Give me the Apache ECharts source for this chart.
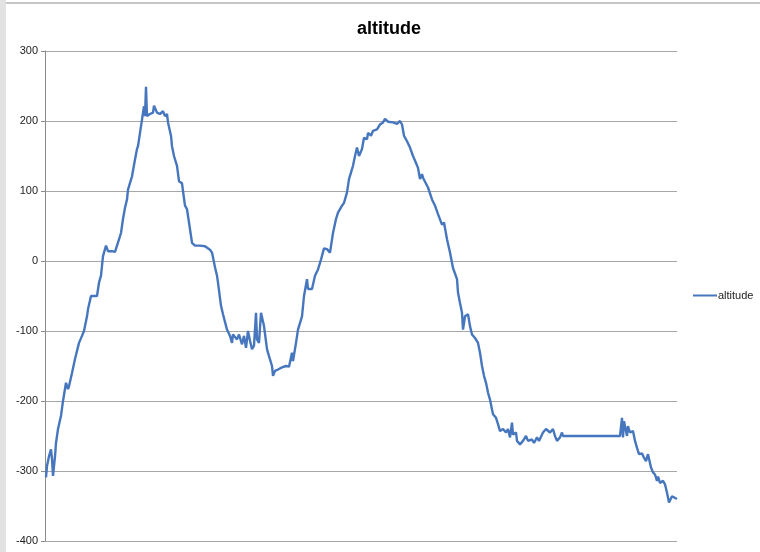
<!DOCTYPE html>
<html>
<head>
<meta charset="utf-8">
<title>altitude</title>
<script src="https://cdn.jsdelivr.net/npm/echarts@6/dist/echarts.min.js"></script>
<style>
    html, body { margin: 0; padding: 0; background: #fff; }
    #chart { width: 760px; height: 552px; }
    .edgeTop { position: absolute; left: 0; top: 2px; width: 760px; height: 2px; background: #c6c6c6; }
    .edgeLeft { position: absolute; left: 0; top: 0; width: 6px; height: 552px; background: #e2e2e2; }
</style>
</head>
<body>
<div id="chart"></div>
<div class="edgeTop"></div>
<div class="edgeLeft"></div>
<script>
// sample index (x) and altitude
var sample = [
    1, 2, 4, 6, 7, 8, 10, 11, 13, 16, 18, 21, 23, 24, 27, 30, 32, 34, 37, 39,
    42, 43, 46, 48, 52, 54, 56, 58, 61, 63, 67, 70, 72, 74, 76, 78, 80, 82, 83, 87,
    90, 92, 93, 95, 97, 99, 100, 101, 102, 105, 108, 109, 112, 115, 118, 120, 122, 123, 126, 127,
    129, 132, 134, 137, 138, 140, 142, 144, 147, 150, 155, 160, 165, 167, 170, 172, 173, 176, 178, 182,
    185, 187, 188, 192, 194, 197, 199, 201, 203, 205, 207, 209, 211, 212, 214, 216, 218, 219, 222, 224,
    227, 228, 230, 233, 237, 241, 244, 247, 248, 251, 253, 257, 259, 262, 263, 267, 270, 273, 276, 279,
    282, 285, 288, 291, 293, 297, 299, 302, 304, 308, 310, 312, 314, 317, 319, 322, 323, 326, 328, 332,
    335, 338, 340, 343, 348, 352, 355, 357, 359, 362, 365, 368, 371, 373, 375, 377, 378, 383, 387, 390,
    393, 397, 399, 402, 405, 408, 412, 413, 415, 417, 418, 420, 423, 425, 427, 430, 433, 435, 437, 439,
    441, 443, 445, 447, 448, 451, 453, 455, 458, 461, 463, 465, 467, 468, 471, 472, 475, 478, 481, 483,
    487, 489, 492, 494, 498, 501, 505, 508, 510, 512, 515, 517, 518, 575, 577, 578, 579, 582, 583, 585,
    588, 590, 592, 594, 597, 599, 601, 603, 606, 608, 610, 612, 613, 615, 618, 620, 622, 624, 627, 629,
    632
];
var altitude = [
    -309, -293, -279, -269, -283, -307, -279, -260, -240, -221, -200, -174, -183, -179, -160, -140, -138, -117, -107, -100,
    -79, -69, -50, -49, -50, -31, -21, 7, 22, 14, 14, 13, 12, 31, 40, 60, 76, 88, 102, 121,
    145, 160, 164, 183, 202, 221, 207, 249, 207, 210, 212, 222, 212, 210, 214, 207, 210, 198, 179, 164,
    150, 136, 114, 111, 100, 79, 74, 55, 26, 22, 22, 21, 16, 12, -9, -21, -31, -64, -76, -98,
    -107, -117, -105, -112, -105, -119, -107, -124, -100, -114, -126, -121, -74, -112, -117, -74, -76, -93, -126, -136,
    -150, -164, -157, -155, -152, -150, -151, -131, -143, -117, -98, -79, -50, -26, -40, -40, -21, -12, 2, 18,
    17, 12, 40, 60, 69, 79, 83, 98, 117, 136, 150, 162, 150, 160, 176, 174, 183, 179, 186, 188,
    195, 198, 203, 199, 198, 196, 200, 195, 179, 171, 162, 150, 140, 133, 117, 124, 119, 105, 88, 79,
    67, 52, 55, 31, 12, -10, -26, -45, -60, -74, -98, -79, -76, -93, -105, -110, -117, -131, -150, -164,
    -174, -188, -198, -212, -219, -224, -233, -243, -240, -245, -240, -252, -231, -248, -245, -257, -262, -257, -250, -257,
    -255, -260, -252, -257, -245, -240, -245, -240, -250, -257, -252, -245, -250, -250, -224, -252, -229, -250, -236, -245,
    -243, -257, -267, -276, -275, -281, -286, -276, -295, -302, -305, -314, -308, -317, -314, -319, -331, -345, -336, -335,
    -340
];
var yTicks = [-400, -300, -200, -100, 0, 100, 200, 300];

var points = sample.map(function (s, i) {
    return [s, altitude[i]];
});

var myChart = echarts.init(document.getElementById('chart'));
var option = {
    animation: false,
    backgroundColor: '#fff',
    title: {
        text: 'altitude',
        left: 352,
        top: 15,
        textStyle: {
            fontFamily: 'Liberation Sans',
            fontWeight: 'bold',
            fontSize: 18,
            color: '#000'
        }
    },
    legend: {
        left: 688,
        top: 285,
        icon: 'rect',
        itemWidth: 24,
        itemHeight: 2,
        itemGap: 2,
        textStyle: {
            fontFamily: 'Liberation Sans',
            fontSize: 11,
            color: '#222',
            padding: [0, 0, 0, -4]
        },
        data: ['altitude']
    },
    grid: {
        left: 45,
        right: 83,
        top: 51,
        bottom: 11,
        containLabel: false
    },
    xAxis: {
        type: 'value',
        min: 0,
        max: 632,
        axisLine: { show: false },
        axisTick: { show: false },
        axisLabel: { show: false },
        splitLine: { show: false }
    },
    yAxis: {
        type: 'value',
        min: yTicks[0],
        max: yTicks[yTicks.length - 1],
        interval: 100,
        axisLine: {
            show: true,
            lineStyle: { color: '#8c8c8c', width: 1 }
        },
        axisTick: {
            show: true,
            length: 4,
            lineStyle: { color: '#8c8c8c' }
        },
        axisLabel: {
            margin: 7,
            fontFamily: 'Liberation Sans',
            fontSize: 11,
            color: '#222'
        },
        splitLine: {
            lineStyle: { color: '#a6a6a6', width: 1 }
        }
    },
    series: [
        {
            name: 'altitude',
            type: 'line',
            symbol: 'none',
            color: '#4677BE',
            lineStyle: { width: 2.4, color: '#4677BE' },
            data: points
        }
    ]
};
myChart.setOption(option);
</script>
</body>
</html>
